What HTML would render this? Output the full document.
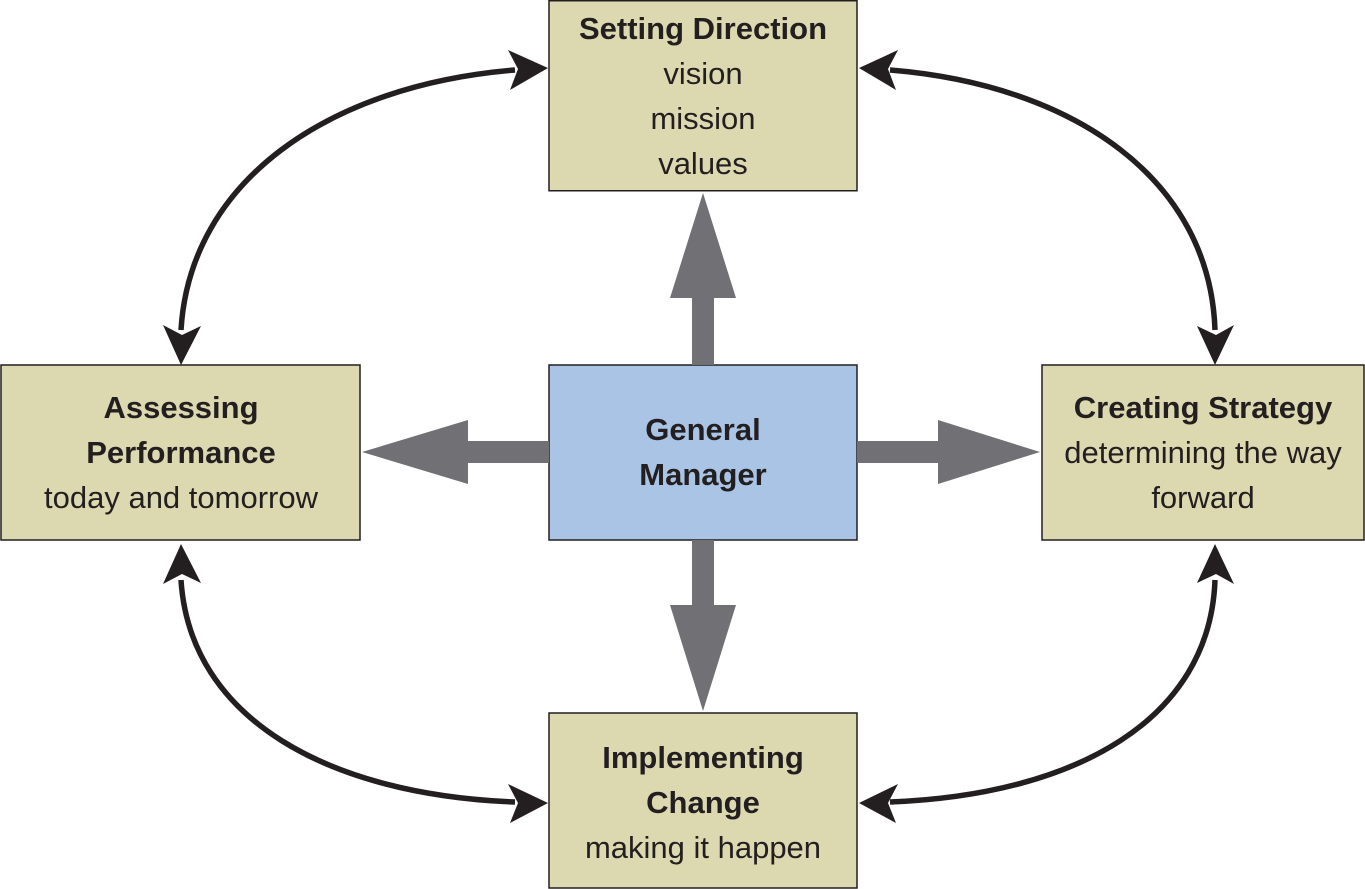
<!DOCTYPE html>
<html><head><meta charset="utf-8"><style>
body{margin:0;background:#fff;}
svg{display:block}
text{font-family:"Liberation Sans Narrow","Liberation Sans",sans-serif;fill:#231f20;font-size:31px;text-anchor:middle}
.b{font-weight:bold}
</style></head><body>
<svg width="1365" height="889" viewBox="0 0 1365 889">
<g stroke="#231f20" stroke-width="1.5">
<rect x="549" y="0.75" width="308" height="190" fill="#dcd8b0"/>
<rect x="1" y="365" width="359" height="175" fill="#dcd8b0"/>
<rect x="549" y="365" width="308" height="175" fill="#a9c4e4"/>
<rect x="1042" y="365" width="322" height="175" fill="#dcd8b0"/>
<rect x="549" y="713" width="308" height="175" fill="#dcd8b0"/>
</g>
<g fill="#707075">
<polygon points="692,365 714,365 714,298 736,298 703,193 670,298 692,298"/>
<polygon points="692,540 714,540 714,605 736,605 703,711 670,605 692,605"/>
<polygon points="549,441 549,463 468,463 468,484 362,452 468,420 468,441"/>
<polygon points="857,441 857,463 938,463 938,484 1040,452 938,420 938,441"/>
</g>
<g fill="none" stroke="#231f20" stroke-width="5.5">
<path d="M515 70 C330 85,190 180,181 330"/>
<path d="M890 70 C1075 85,1210 180,1215 330"/>
<path d="M181 580 C190 720,330 795,515 802"/>
<path d="M890 802 C1075 795,1210 720,1215 580"/>
</g>
<g fill="#231f20">
<polygon points="548,68 508,50 518,69 510,90"/>
<polygon points="859,68 898,50 888,69 896,90"/>
<polygon points="181,365 163,325 182,335 201,326"/>
<polygon points="1215,365 1197,326 1216,335 1234,325"/>
<polygon points="181,544 163,584 182,574 201,583"/>
<polygon points="1215,544 1197,583 1216,574 1234,584"/>
<polygon points="548,803 508,784 518,803 510,823"/>
<polygon points="859,803 898,784 888,803 896,823"/>
</g>
<text class="b" x="703" y="39">Setting Direction</text>
<text x="703" y="84">vision</text>
<text x="703" y="129">mission</text>
<text x="703" y="174">values</text>
<text class="b" x="181" y="418">Assessing</text>
<text class="b" x="181" y="463">Performance</text>
<text x="181" y="508">today and tomorrow</text>
<text class="b" x="703" y="440">General</text>
<text class="b" x="703" y="485">Manager</text>
<text class="b" x="1203" y="418">Creating Strategy</text>
<text x="1203" y="463">determining the way</text>
<text x="1203" y="508">forward</text>
<text class="b" x="703" y="768">Implementing</text>
<text class="b" x="703" y="813">Change</text>
<text x="703" y="858">making it happen</text>
</svg>
</body></html>
